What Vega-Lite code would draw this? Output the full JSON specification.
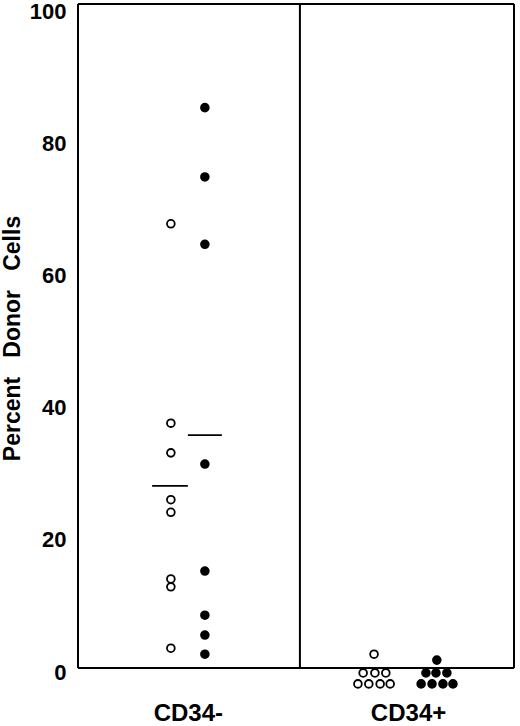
{
  "$schema": "https://vega.github.io/schema/vega-lite/v6.json",
  "width": 436,
  "height": 668,
  "autosize": {"type": "none"},
  "padding": {"left": 78, "top": 4, "right": 6, "bottom": 54},
  "background": "white",
  "config": {
    "view": {"stroke": null},
    "font": "Liberation Sans"
  },
  "datasets": {
    "points": [
      {"group": "CD34-", "series": "open", "pos": 21.3, "pct": 67.9},
      {"group": "CD34-", "series": "open", "pos": 21.3, "pct": 37.7},
      {"group": "CD34-", "series": "open", "pos": 21.3, "pct": 33.2},
      {"group": "CD34-", "series": "open", "pos": 21.3, "pct": 26.1},
      {"group": "CD34-", "series": "open", "pos": 21.3, "pct": 24.2},
      {"group": "CD34-", "series": "open", "pos": 21.3, "pct": 14.1},
      {"group": "CD34-", "series": "open", "pos": 21.3, "pct": 12.9},
      {"group": "CD34-", "series": "open", "pos": 21.3, "pct": 3.6},
      {"group": "CD34-", "series": "filled", "pos": 29.1, "pct": 85.5},
      {"group": "CD34-", "series": "filled", "pos": 29.1, "pct": 75.0},
      {"group": "CD34-", "series": "filled", "pos": 29.1, "pct": 64.8},
      {"group": "CD34-", "series": "filled", "pos": 29.1, "pct": 31.5},
      {"group": "CD34-", "series": "filled", "pos": 29.1, "pct": 15.3},
      {"group": "CD34-", "series": "filled", "pos": 29.1, "pct": 8.6},
      {"group": "CD34-", "series": "filled", "pos": 29.1, "pct": 5.6},
      {"group": "CD34-", "series": "filled", "pos": 29.1, "pct": 2.7},
      {"group": "CD34+", "series": "open", "pos": 67.9, "pct": 2.7},
      {"group": "CD34+", "series": "open", "pos": 65.4, "pct": -0.15},
      {"group": "CD34+", "series": "open", "pos": 68.1, "pct": -0.15},
      {"group": "CD34+", "series": "open", "pos": 70.6, "pct": -0.15},
      {"group": "CD34+", "series": "open", "pos": 64.2, "pct": -1.8},
      {"group": "CD34+", "series": "open", "pos": 66.7, "pct": -1.8},
      {"group": "CD34+", "series": "open", "pos": 69.3, "pct": -1.8},
      {"group": "CD34+", "series": "open", "pos": 71.6, "pct": -1.8},
      {"group": "CD34+", "series": "filled", "pos": 82.3, "pct": 1.8},
      {"group": "CD34+", "series": "filled", "pos": 79.8, "pct": -0.15},
      {"group": "CD34+", "series": "filled", "pos": 82.1, "pct": -0.15},
      {"group": "CD34+", "series": "filled", "pos": 84.6, "pct": -0.15},
      {"group": "CD34+", "series": "filled", "pos": 78.7, "pct": -1.8},
      {"group": "CD34+", "series": "filled", "pos": 81.2, "pct": -1.8},
      {"group": "CD34+", "series": "filled", "pos": 83.7, "pct": -1.8},
      {"group": "CD34+", "series": "filled", "pos": 86.0, "pct": -1.8}
    ],
    "means": [
      {"series": "open", "start": 17.0, "end": 25.2, "pct": 28.2},
      {"series": "filled", "start": 25.2, "end": 33.0, "pct": 35.9}
    ],
    "verticals": [{"pos": 0}, {"pos": 50.9}, {"pos": 100}],
    "horizontals": [{"level": 0.6}, {"level": 101.2}]
  },
  "layer": [
    {
      "data": {"name": "verticals"},
      "mark": {"type": "rule", "color": "black", "strokeWidth": 2},
      "encoding": {
        "x": {
          "field": "pos",
          "type": "quantitative",
          "scale": {"domain": [0, 100], "nice": false, "zero": false},
          "axis": {
            "values": [25.2, 75.7],
            "labelExpr": "datum.value < 50 ? 'CD34-' : 'CD34+'",
            "title": null,
            "grid": false,
            "domain": false,
            "ticks": false,
            "tickSize": 0,
            "labelPadding": 29,
            "labelFont": "Liberation Sans",
            "labelFontWeight": "bold",
            "labelFontSize": 24,
            "labelColor": "black"
          }
        },
        "y": {"datum": 0.6, "type": "quantitative"},
        "y2": {"datum": 101.2}
      }
    },
    {
      "data": {"name": "horizontals"},
      "mark": {"type": "rule", "color": "black", "strokeWidth": 2},
      "encoding": {
        "y": {"field": "level", "type": "quantitative"},
        "x": {"datum": 0, "type": "quantitative"},
        "x2": {"datum": 100}
      }
    },
    {
      "data": {"name": "means"},
      "mark": {"type": "rule", "color": "black", "strokeWidth": 1.8},
      "encoding": {
        "x": {"field": "start", "type": "quantitative"},
        "x2": {"field": "end"},
        "y": {"field": "pct", "type": "quantitative"}
      }
    },
    {
      "data": {"name": "points"},
      "mark": {"type": "point", "shape": "circle", "filled": true, "stroke": "black", "strokeWidth": 1.8, "size": 60, "opacity": 1},
      "encoding": {
        "x": {"field": "pos", "type": "quantitative"},
        "y": {
          "field": "pct",
          "type": "quantitative",
          "scale": {"domain": [0, 101.2], "nice": false, "zero": false},
          "axis": {
            "values": [0, 20, 40, 60, 80, 100],
            "title": "Percent\u00a0\u00a0\u00a0Donor\u00a0\u00a0\u00a0Cells",
            "titleFont": "Liberation Sans",
            "titleFontWeight": "bold",
            "titleFontSize": 23,
            "titleColor": "black",
            "titlePadding": 5,
            "grid": false,
            "domain": false,
            "ticks": false,
            "tickSize": 0,
            "labelPadding": 12,
            "labelFont": "Liberation Sans",
            "labelFontWeight": "bold",
            "labelFontSize": 22,
            "labelColor": "black",
            "labelFlush": false,
            "labelOverlap": false
          }
        },
        "fill": {
          "field": "series",
          "type": "nominal",
          "scale": {"domain": ["open", "filled"], "range": ["white", "black"]},
          "legend": null
        }
      }
    }
  ]
}
